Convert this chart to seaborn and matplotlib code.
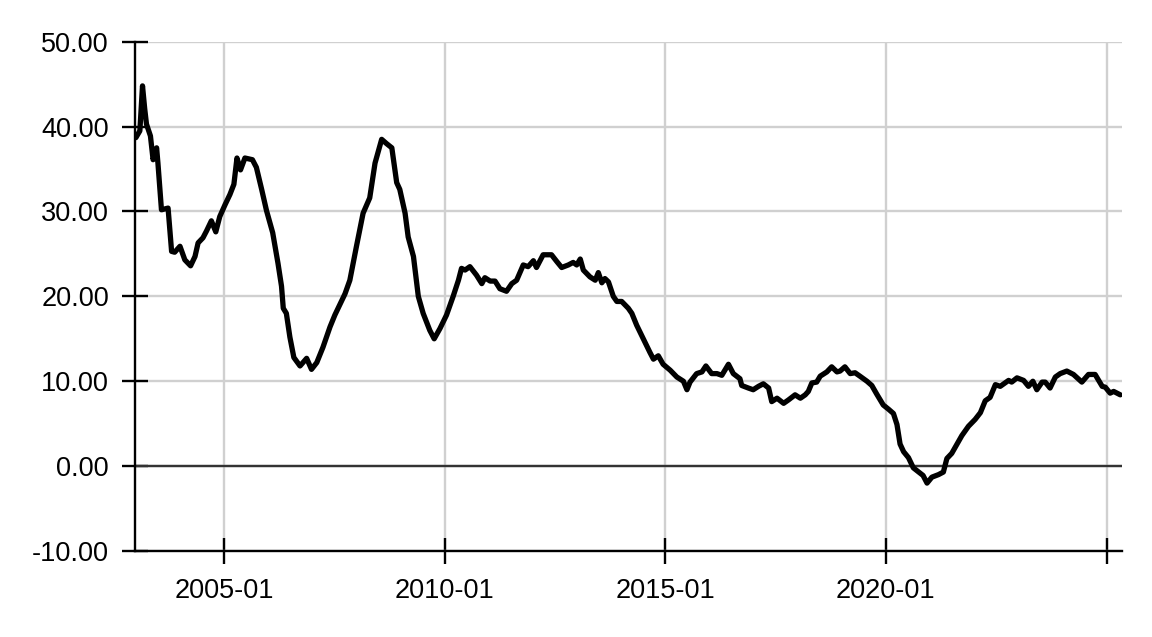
import numpy as np
import pandas as pd
import matplotlib
matplotlib.use("Agg")
import matplotlib.pyplot as plt
import seaborn as sns

# ---- data (decimal years, values) ----
years = [
    2003.00, 2003.09, 2003.15, 2003.20, 2003.24, 2003.33, 2003.39, 2003.47, 2003.50, 2003.58,
    2003.73, 2003.81, 2003.88, 2004.00, 2004.11, 2004.24, 2004.34, 2004.41, 2004.52, 2004.60,
    2004.71, 2004.81, 2004.90, 2005.02, 2005.13, 2005.22, 2005.29, 2005.37, 2005.47, 2005.64,
    2005.73, 2005.85, 2005.96, 2006.10, 2006.22, 2006.30, 2006.34, 2006.41, 2006.49, 2006.58,
    2006.72, 2006.87, 2006.98, 2007.10, 2007.24, 2007.40, 2007.51, 2007.62,
    2007.74, 2007.85, 2008.00, 2008.15, 2008.30, 2008.42, 2008.57, 2008.68, 2008.80, 2008.91,
    2008.98, 2009.10, 2009.17, 2009.29, 2009.40, 2009.51, 2009.66, 2009.76, 2009.89, 2010.04,
    2010.19, 2010.31, 2010.38, 2010.46, 2010.57, 2010.72, 2010.84, 2010.91, 2011.03, 2011.14,
    2011.25, 2011.40, 2011.52, 2011.63, 2011.78, 2011.89, 2012.01,
    2012.08, 2012.23, 2012.42, 2012.54, 2012.65, 2012.80, 2012.91, 2012.99, 2013.07, 2013.14,
    2013.29, 2013.41, 2013.48, 2013.56, 2013.63, 2013.71, 2013.82, 2013.90, 2014.01, 2014.16,
    2014.24, 2014.35, 2014.50, 2014.65, 2014.73, 2014.84, 2014.95, 2015.11, 2015.26, 2015.41,
    2015.49, 2015.56, 2015.71, 2015.83, 2015.92, 2016.05, 2016.17, 2016.28, 2016.43, 2016.54,
    2016.69, 2016.73, 2016.88, 2016.99, 2017.11, 2017.22, 2017.34, 2017.41, 2017.53, 2017.68,
    2017.79, 2017.94, 2018.06, 2018.17, 2018.24, 2018.32, 2018.43, 2018.51, 2018.66, 2018.77,
    2018.89, 2018.96, 2019.07, 2019.19, 2019.30, 2019.41, 2019.57, 2019.68, 2019.79, 2019.94,
    2020.06, 2020.17, 2020.25, 2020.32, 2020.40, 2020.51, 2020.62, 2020.74, 2020.84, 2020.93,
    2021.04, 2021.19, 2021.30, 2021.38, 2021.49, 2021.61, 2021.72, 2021.87, 2022.02, 2022.14,
    2022.25, 2022.36, 2022.48, 2022.59, 2022.78, 2022.85, 2022.97, 2023.12, 2023.23, 2023.33,
    2023.42, 2023.54, 2023.61, 2023.72, 2023.84, 2023.95, 2024.10, 2024.25, 2024.44, 2024.59,
    2024.74, 2024.90, 2024.97, 2025.08, 2025.16, 2025.31,
]
values = [
    38.7, 39.5, 44.8, 42.1, 40.3, 38.9, 36.1, 37.5, 35.7, 30.2,
    30.4, 25.3, 25.2, 25.9, 24.3, 23.6, 24.7, 26.3, 26.9, 27.7,
    28.9, 27.6, 29.4, 30.8, 32.0, 33.2, 36.3, 34.9, 36.3, 36.1,
    35.2, 32.6, 30.1, 27.5, 23.9, 21.2, 18.6, 18.0, 15.2, 12.8,
    11.8, 12.7, 11.4, 12.2, 14.0, 16.4, 17.8, 19.0,
    20.3, 21.9, 25.9, 29.8, 31.6, 35.7, 38.5, 38.0, 37.5, 33.4,
    32.6, 29.8, 27.0, 24.7, 20.0, 18.0, 16.0, 15.0, 16.2, 17.8,
    20.0, 21.9, 23.3, 23.1, 23.5, 22.5, 21.5, 22.2, 21.8, 21.8,
    20.9, 20.6, 21.5, 21.9, 23.7, 23.5, 24.2,
    23.4, 24.9, 24.9, 24.1, 23.4, 23.7, 24.0, 23.7, 24.4, 23.1,
    22.3, 21.9, 22.8, 21.6, 22.1, 21.7, 20.0, 19.4, 19.4, 18.6,
    18.0, 16.6, 15.0, 13.4, 12.6, 13.0, 12.0, 11.3, 10.5, 10.0,
    9.0, 9.9, 10.9, 11.1, 11.8, 10.9, 10.9, 10.7, 12.0, 10.9,
    10.3, 9.5, 9.2, 9.0, 9.4, 9.7, 9.2, 7.6, 8.0, 7.4,
    7.8, 8.4, 8.0, 8.4, 8.8, 9.8, 9.9, 10.6, 11.1, 11.7,
    11.1, 11.2, 11.7, 10.9, 11.0, 10.6, 10.0, 9.5, 8.5, 7.2,
    6.7, 6.2, 4.9, 2.6, 1.7, 1.0, -0.2, -0.7, -1.1, -2.0,
    -1.3, -1.0, -0.7, 0.9, 1.5, 2.6, 3.6, 4.7, 5.5, 6.3,
    7.7, 8.1, 9.6, 9.4, 10.1, 9.9, 10.4, 10.1, 9.4, 10.0,
    9.0, 9.9, 9.9, 9.2, 10.5, 10.9, 11.2, 10.8, 9.9, 10.8,
    10.8, 9.4, 9.3, 8.6, 8.8, 8.4,
]
y_ticks = [-10, 0, 10, 20, 30, 40, 50]
x_tick_years = [2005, 2010, 2015, 2020, 2025]
x_tick_labels = ["2005-01", "2010-01", "2015-01", "2020-01", ""]


def to_ts(d):
    y = int(np.floor(d))
    s = pd.Timestamp(y, 1, 1)
    e = pd.Timestamp(y + 1, 1, 1)
    return s + (d - y) * (e - s)


df = pd.DataFrame({"date": [to_ts(d) for d in years], "value": values})

sns.set_theme(style="white")
plt.rcParams["font.family"] = ["Liberation Sans", "DejaVu Sans"]

fig = plt.figure(figsize=(11.52, 6.37), dpi=100)
ax = fig.add_axes([0.117, 0.135, 0.857, 0.7995])

ax.grid(True, color="#d0d0d0", linewidth=1.7)
ax.set_axisbelow(True)
ax.axhline(0, color="#333333", linewidth=1.7, zorder=1.5)

sns.lineplot(data=df, x="date", y="value", ax=ax, color="black",
             linewidth=3.8, zorder=3, solid_joinstyle="round",
             solid_capstyle="round")

ax.set_ylim(-10, 50)
ax.set_yticks(y_ticks)
ax.set_yticklabels([f"{v:.2f}" for v in y_ticks])
ax.set_xlim(to_ts(2002.975), to_ts(2025.35))
ax.set_xticks([pd.Timestamp(y, 1, 1) for y in x_tick_years])
ax.set_xticklabels(x_tick_labels)

ax.set_xlabel("")
ax.set_ylabel("")
for side in ["top", "right"]:
    ax.spines[side].set_visible(False)
for side in ["left", "bottom"]:
    ax.spines[side].set_color("black")
    ax.spines[side].set_linewidth(1.7)

ax.tick_params(axis="both", direction="inout", length=19, width=1.7,
               color="black", labelsize=19.5, labelcolor="black",
               bottom=True, left=True)
ax.tick_params(axis="y", pad=9)
ax.tick_params(axis="x", pad=10)

fig.savefig("out.png", dpi=100, facecolor="white")
